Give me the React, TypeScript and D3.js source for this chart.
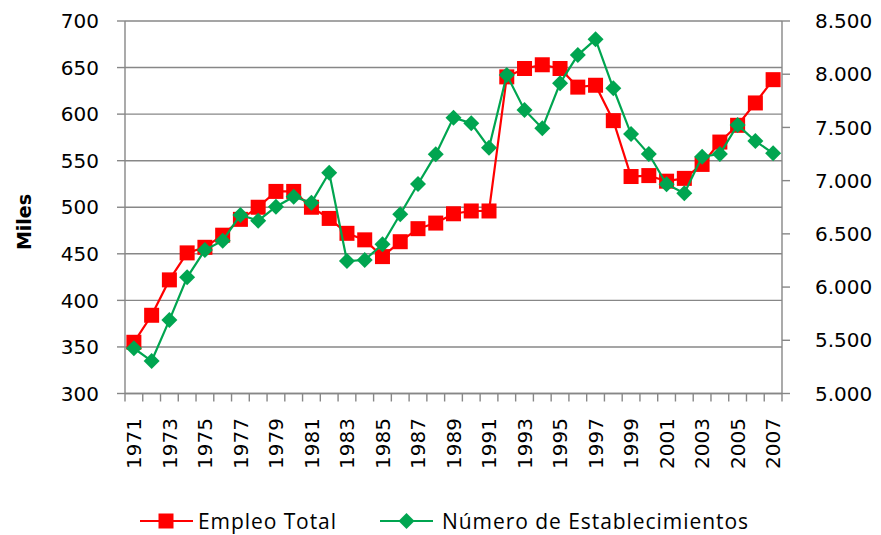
import React from "react";
import * as d3 from "d3";

const years = [
  1971, 1972, 1973, 1974, 1975, 1976, 1977, 1978, 1979, 1980, 1981, 1982, 1983,
  1984, 1985, 1986, 1987, 1988, 1989, 1990, 1991, 1992, 1993, 1994, 1995, 1996,
  1997, 1998, 1999, 2000, 2001, 2002, 2003, 2004, 2005, 2006, 2007,
];

const empleoTotal = [
  355, 384, 422, 451, 457, 470, 487, 500, 517, 517, 500, 488, 472, 465, 447,
  463, 477, 483, 493, 496, 496, 640, 649, 653, 649, 629, 631, 593, 533, 534,
  528, 531, 546, 570, 588, 612, 637,
];

const establecimientos = [
  5425, 5305, 5690, 6092, 6348, 6436, 6677, 6624, 6755, 6849, 6793, 7075, 6245,
  6254, 6402, 6684, 6968, 7247, 7592, 7539, 7310, 7993, 7664, 7492, 7915, 8180,
  8328, 7868, 7438, 7250, 6966, 6881, 7225, 7250, 7523, 7372, 7257,
];

const leftTicks = [300, 350, 400, 450, 500, 550, 600, 650, 700];
const rightTicks = [5000, 5500, 6000, 6500, 7000, 7500, 8000, 8500];
const rightTickLabels = ["5.000", "5.500", "6.000", "6.500", "7.000", "7.500", "8.000", "8.500"];
const seriesNames = ["Empleo Total", "Número de Establecimientos"];
const yAxisTitle = "Miles";

const W = 881;
const H = 535;
const left = 125;
const right = 782;
const top = 21;
const bottom = 393.5;

const RED = "#ff0000";
const GREEN = "#00a550";
const GRID = "#878787";
const FONT = "'DejaVu Sans', Verdana, sans-serif";
const LEGEND_FONT = "'Open Sans', 'DejaVu Sans', sans-serif";

export default function App() {
  const x = d3.scaleBand<number>().domain(years).range([left, right]);
  const bw = x.bandwidth();
  const cx = (yr: number) => (x(yr) as number) + bw / 2;
  const yL = d3.scaleLinear().domain([300, 700]).range([bottom, top]);
  const yR = d3.scaleLinear().domain([5000, 8500]).range([bottom, top]);

  const redLine = d3
    .line<number>()
    .x((_, i) => cx(years[i]))
    .y((d) => yL(d))(empleoTotal) as string;
  const greenLine = d3
    .line<number>()
    .x((_, i) => cx(years[i]))
    .y((d) => yR(d))(establecimientos) as string;

  const sq = 15;
  const dm = 8;
  const diamond = (px: number, py: number) =>
    `M${px},${py - dm}L${px + dm},${py}L${px},${py + dm}L${px - dm},${py}Z`;

  const boundaries = [...years.map((yr) => x(yr) as number), right];

  return (
    <svg
      width={W}
      height={H}
      style={{ position: "absolute", left: 0, top: 0, background: "#fff" }}
      fontFamily={FONT}
    >
      {/* gridlines */}
      {leftTicks.map((t) => (
        <line key={"g" + t} x1={left} x2={right} y1={yL(t)} y2={yL(t)} stroke={GRID} strokeWidth={1.4} />
      ))}
      {/* left axis */}
      <line x1={left} x2={left} y1={top} y2={bottom} stroke={GRID} strokeWidth={1.4} />
      {leftTicks.map((t) => (
        <g key={"l" + t}>
          <line x1={left - 8} x2={left} y1={yL(t)} y2={yL(t)} stroke={GRID} strokeWidth={1.4} />
          <text x={99} y={yL(t)} dy="0.36em" textAnchor="end" fontSize={20} fill="#000">
            {t}
          </text>
        </g>
      ))}
      {/* right axis */}
      <line x1={right} x2={right} y1={top} y2={bottom} stroke={GRID} strokeWidth={1.4} />
      {rightTicks.map((t, i) => (
        <g key={"r" + t}>
          <line x1={right} x2={right + 8} y1={yR(t)} y2={yR(t)} stroke={GRID} strokeWidth={1.4} />
          <text x={815} y={yR(t)} dy="0.36em" textAnchor="start" fontSize={20} fill="#000">
            {rightTickLabels[i]}
          </text>
        </g>
      ))}
      {/* x axis */}
      <line x1={left} x2={right} y1={bottom} y2={bottom} stroke={GRID} strokeWidth={1.4} />
      {boundaries.map((b, i) => (
        <line key={"xt" + i} x1={b} x2={b} y1={bottom} y2={bottom + 8} stroke={GRID} strokeWidth={1.4} />
      ))}
      {years
        .filter((_, i) => i % 2 === 0)
        .map((yr) => (
          <text
            key={"xl" + yr}
            transform={`translate(${cx(yr)},${418}) rotate(-90)`}
            dy="0.36em"
            textAnchor="end"
            fontSize={20}
            fill="#000"
          >
            {yr}
          </text>
        ))}
      {/* y title */}
      <text
        transform={`translate(24,222) rotate(-90)`}
        dy="0.36em"
        textAnchor="middle"
        fontSize={19}
        fontWeight="bold"
        fill="#000"
      >
        {yAxisTitle}
      </text>

      {/* red series */}
      <path d={redLine} fill="none" stroke={RED} strokeWidth={2.2} />
      {empleoTotal.map((v, i) => (
        <rect key={"rs" + i} x={cx(years[i]) - sq / 2} y={yL(v) - sq / 2} width={sq} height={sq} fill={RED} />
      ))}
      {/* green series */}
      <path d={greenLine} fill="none" stroke={GREEN} strokeWidth={2.2} />
      {establecimientos.map((v, i) => (
        <path key={"gs" + i} d={diamond(cx(years[i]), yR(v))} fill={GREEN} />
      ))}

      {/* legend */}
      <line x1={140} x2={193} y1={521} y2={521} stroke={RED} strokeWidth={2.2} />
      <rect x={166 - sq / 2} y={521 - sq / 2} width={sq} height={sq} fill={RED} />
      <text
        x={198}
        y={521}
        dy="0.36em"
        fontSize={21}
        fontFamily={LEGEND_FONT}
        textLength={138}
        lengthAdjust="spacing"
        fill="#000"
      >
        {seriesNames[0]}
      </text>
      <line x1={380} x2={433} y1={521} y2={521} stroke={GREEN} strokeWidth={2.2} />
      <path d={diamond(406.5, 521)} fill={GREEN} />
      <text
        x={442}
        y={521}
        dy="0.36em"
        fontSize={21}
        fontFamily={LEGEND_FONT}
        textLength={306}
        lengthAdjust="spacing"
        fill="#000"
      >
        {seriesNames[1]}
      </text>
    </svg>
  );
}
